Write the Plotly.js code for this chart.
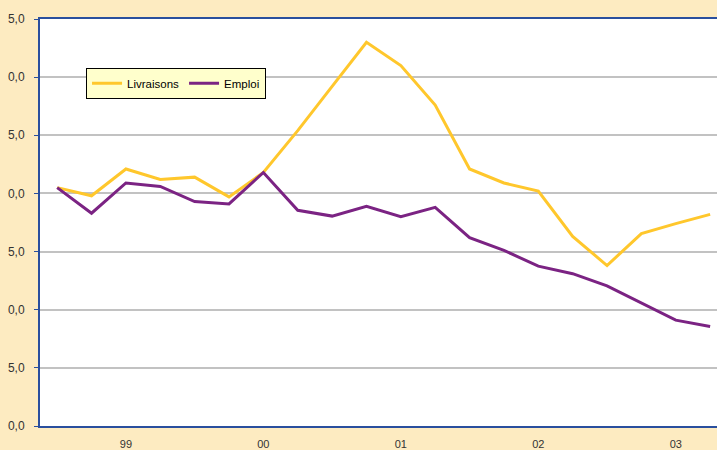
<!DOCTYPE html>
<html>
<head>
<meta charset="utf-8">
<script src="https://cdn.plot.ly/plotly-3.0.1.min.js"></script>
<style>html,body{margin:0;padding:0;background:#fdebc1;overflow:hidden;}#chart{width:717px;height:450px;}</style>
</head>
<body>
<div id="chart"></div>
<script>
// Quarterly index positions (0..19)
const quarters = [0,1,2,3,4,5,6,7,8,9,10,11,12,13,14,15,16,17,18,19];
const livraisons = [0.5,-0.2,2.1,1.2,1.4,-0.3,1.8,5.4,9.2,13.0,11.0,7.6,2.1,0.9,0.2,-3.7,-6.2,-3.45,-2.6,-1.8];
const emploi = [0.5,-1.7,0.9,0.6,-0.7,-0.9,1.8,-1.45,-1.95,-1.1,-2.0,-1.2,-3.8,-4.9,-6.25,-6.9,-7.95,-9.4,-10.9,-11.45];
const xTickVals = [2,6,10,14,18];
const xTickText = ['99','00','01','02','03'];
const yTickVals = [15,10,5,0,-5,-10,-15,-20];
const yTickText = ['5,0','0,0','5,0','0,0','5,0','0,0','5,0','0,0'];

const traces = [
  {x: quarters, y: livraisons, name: 'Livraisons', type: 'scatter', mode: 'lines',
   line: {color: '#ffc72c', width: 3}},
  {x: quarters, y: emploi, name: 'Emploi', type: 'scatter', mode: 'lines',
   line: {color: '#7b2383', width: 3}}
];

const layout = {
  width: 717, height: 450,
  paper_bgcolor: '#fdebc1',
  plot_bgcolor: '#ffffff',
  margin: {l: 40, r: 0, t: 19, b: 24},
  font: {family: 'Liberation Sans, Arial, sans-serif', size: 11, color: '#333333'},
  showlegend: true,
  legend: {
    x: 0.068, y: 0.88, xanchor: 'left', yanchor: 'top',
    orientation: 'h',
    bgcolor: '#ffffcc', bordercolor: '#000000', borderwidth: 1,
    font: {size: 11.5, color: '#000000'},
    itemwidth: 30, tracegroupgap: 0
  },
  xaxis: {
    range: [-0.5, 19.2],
    tickmode: 'array', tickvals: xTickVals, ticktext: xTickText,
    showgrid: false, zeroline: false,
    showline: true, linecolor: '#2a4f9e', linewidth: 2, mirror: true,
    ticks: '', ticklabelstandoff: 7, tickfont: {size: 11, color: '#333333'},
    fixedrange: true
  },
  yaxis: {
    range: [-20, 15],
    tickmode: 'array', tickvals: yTickVals, ticktext: yTickText,
    showgrid: true, gridcolor: '#c2c2c2', gridwidth: 2,
    zeroline: false,
    showline: true, linecolor: '#2a4f9e', linewidth: 2, mirror: true,
    ticks: 'outside', ticklen: 4, tickcolor: '#2a4f9e', tickwidth: 1,
    ticklabelstandoff: 7,
    tickfont: {size: 12, color: '#333333'},
    fixedrange: true
  }
};

Plotly.newPlot('chart', traces, layout, {staticPlot: true, displayModeBar: false});
</script>
</body>
</html>
